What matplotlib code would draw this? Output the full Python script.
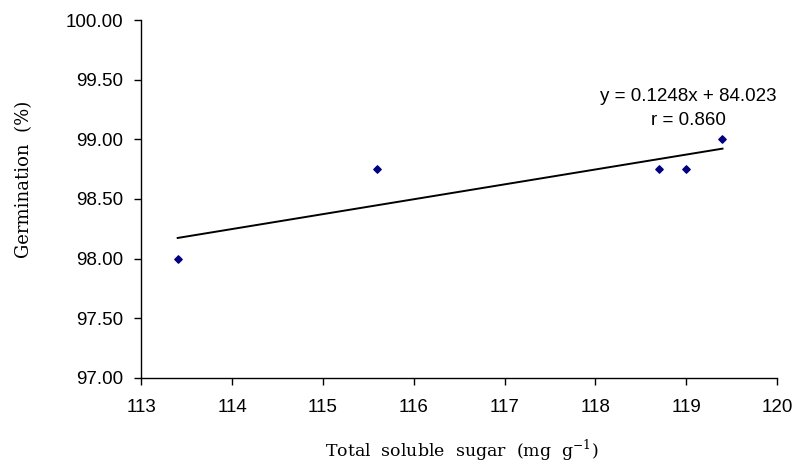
import matplotlib
matplotlib.use("Agg")
import matplotlib.pyplot as plt
import numpy as np

sugar = [113.4, 115.6, 118.7, 119.0, 119.4]
germination = [98.0, 98.75, 98.75, 98.75, 99.0]
x_ticks = [113, 114, 115, 116, 117, 118, 119, 120]
y_ticks = [97.0, 97.5, 98.0, 98.5, 99.0, 99.5, 100.0]

fig = plt.figure(figsize=(7.96, 4.66), dpi=100)
ax = fig.add_axes([0.1776, 0.189, 0.7985, 0.768])

ax.scatter(sugar, germination, marker="D", s=14, color="#000080", zorder=3)

slope, intercept = np.polyfit(sugar, germination, 1)
xs = np.array([min(sugar), max(sugar)])
ax.plot(xs, slope * xs + intercept, color="black", lw=1.4)
r = np.corrcoef(sugar, germination)[0, 1]

ax.text(119.02, 99.36, f"y = {slope:.4f}x + {intercept:.3f}", ha="center", va="center",
        fontsize=13.5, family="Liberation Sans")
ax.text(119.02, 99.155, f"r = {r:.3f}", ha="center", va="center",
        fontsize=13.5, family="Liberation Sans")

ax.set_xlim(113, 120)
ax.set_ylim(97, 100)
ax.set_xticks(x_ticks)
ax.set_xticklabels([str(t) for t in x_ticks], family="Liberation Sans", fontsize=13.5)
ax.set_yticks(y_ticks)
ax.set_yticklabels([f"{t:.2f}" for t in y_ticks], family="Liberation Sans", fontsize=13.5)
ax.tick_params(direction="out", length=5, width=1)
ax.tick_params(axis="y", pad=8)
ax.tick_params(axis="x", pad=10)
for s in ["top", "right"]:
    ax.spines[s].set_visible(False)
for s in ["left", "bottom"]:
    ax.spines[s].set_linewidth(1)

ax.set_xlabel(r"Total  soluble  sugar  (mg  g$^{\mathregular{-1}}$)", family="DejaVu Serif",
              fontsize=12.5)
ax.xaxis.set_label_coords(0.504, -0.165)
ax.set_ylabel("Germination  (%)", family="DejaVu Serif", fontsize=13)
ax.yaxis.set_label_coords(-0.17, 0.556)

fig.savefig("out.png", dpi=100)
